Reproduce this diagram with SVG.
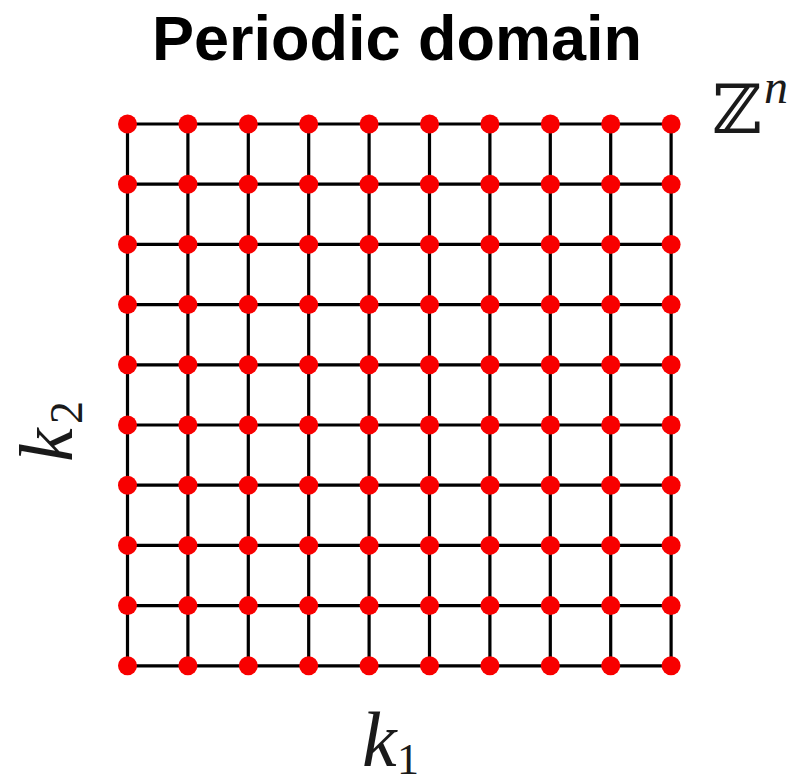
<svg xmlns="http://www.w3.org/2000/svg" width="801" height="784" viewBox="0 0 801 784">
<style>
.title{font-family:"Liberation Sans",Arial,sans-serif;font-weight:bold;font-size:63px;fill:#000}
.math{font-family:"Liberation Serif","DejaVu Serif",serif;font-style:italic;fill:#1a1a1a}
.num{font-family:"Liberation Serif","DejaVu Serif",serif;font-style:normal;fill:#1a1a1a}
.bb{font-family:"DejaVu Serif","DejaVu Sans",serif;fill:#1a1a1a}
.grid{stroke:#000;stroke-width:3.2;fill:none}
.dot{fill:#f80000}
</style>
<rect width="801" height="784" fill="#fff"/>
<text class="title" x="152" y="60">Periodic domain</text>
<g id="label-Zn">
<text class="bb" x="712" y="133" font-size="68">ℤ</text>
<text class="math" x="764" y="103" font-size="48">n</text>
</g>
<g id="label-k1">
<text class="math" x="362" y="766" font-size="78">k</text>
<text class="num" x="397" y="774" font-size="44">1</text>
</g>
<g id="label-k2" transform="translate(72,462) rotate(-90)">
<text class="math" x="0" y="0" font-size="76">k</text>
<text class="num" x="38" y="10" font-size="46">2</text>
</g>
<g id="connectors" class="grid">
<path d="M127.5 124H671.1M127.5 184.2H671.1M127.5 244.4H671.1M127.5 304.6H671.1M127.5 364.8H671.1M127.5 425H671.1M127.5 485.2H671.1M127.5 545.4H671.1M127.5 605.6H671.1M127.5 665.8H671.1"/>
<path d="M127.5 124V665.8M187.9 124V665.8M248.3 124V665.8M308.7 124V665.8M369.1 124V665.8M429.5 124V665.8M489.9 124V665.8M550.3 124V665.8M610.7 124V665.8M671.1 124V665.8"/>
</g>
<g id="nodes" class="dot">
<g id="n0-0"><circle cx="127.5" cy="124" r="9.5"/></g><g id="n0-1"><circle cx="187.9" cy="124" r="9.5"/></g><g id="n0-2"><circle cx="248.3" cy="124" r="9.5"/></g><g id="n0-3"><circle cx="308.7" cy="124" r="9.5"/></g><g id="n0-4"><circle cx="369.1" cy="124" r="9.5"/></g><g id="n0-5"><circle cx="429.5" cy="124" r="9.5"/></g><g id="n0-6"><circle cx="489.9" cy="124" r="9.5"/></g><g id="n0-7"><circle cx="550.3" cy="124" r="9.5"/></g><g id="n0-8"><circle cx="610.7" cy="124" r="9.5"/></g><g id="n0-9"><circle cx="671.1" cy="124" r="9.5"/></g>
<g id="n1-0"><circle cx="127.5" cy="184.2" r="9.5"/></g><g id="n1-1"><circle cx="187.9" cy="184.2" r="9.5"/></g><g id="n1-2"><circle cx="248.3" cy="184.2" r="9.5"/></g><g id="n1-3"><circle cx="308.7" cy="184.2" r="9.5"/></g><g id="n1-4"><circle cx="369.1" cy="184.2" r="9.5"/></g><g id="n1-5"><circle cx="429.5" cy="184.2" r="9.5"/></g><g id="n1-6"><circle cx="489.9" cy="184.2" r="9.5"/></g><g id="n1-7"><circle cx="550.3" cy="184.2" r="9.5"/></g><g id="n1-8"><circle cx="610.7" cy="184.2" r="9.5"/></g><g id="n1-9"><circle cx="671.1" cy="184.2" r="9.5"/></g>
<g id="n2-0"><circle cx="127.5" cy="244.4" r="9.5"/></g><g id="n2-1"><circle cx="187.9" cy="244.4" r="9.5"/></g><g id="n2-2"><circle cx="248.3" cy="244.4" r="9.5"/></g><g id="n2-3"><circle cx="308.7" cy="244.4" r="9.5"/></g><g id="n2-4"><circle cx="369.1" cy="244.4" r="9.5"/></g><g id="n2-5"><circle cx="429.5" cy="244.4" r="9.5"/></g><g id="n2-6"><circle cx="489.9" cy="244.4" r="9.5"/></g><g id="n2-7"><circle cx="550.3" cy="244.4" r="9.5"/></g><g id="n2-8"><circle cx="610.7" cy="244.4" r="9.5"/></g><g id="n2-9"><circle cx="671.1" cy="244.4" r="9.5"/></g>
<g id="n3-0"><circle cx="127.5" cy="304.6" r="9.5"/></g><g id="n3-1"><circle cx="187.9" cy="304.6" r="9.5"/></g><g id="n3-2"><circle cx="248.3" cy="304.6" r="9.5"/></g><g id="n3-3"><circle cx="308.7" cy="304.6" r="9.5"/></g><g id="n3-4"><circle cx="369.1" cy="304.6" r="9.5"/></g><g id="n3-5"><circle cx="429.5" cy="304.6" r="9.5"/></g><g id="n3-6"><circle cx="489.9" cy="304.6" r="9.5"/></g><g id="n3-7"><circle cx="550.3" cy="304.6" r="9.5"/></g><g id="n3-8"><circle cx="610.7" cy="304.6" r="9.5"/></g><g id="n3-9"><circle cx="671.1" cy="304.6" r="9.5"/></g>
<g id="n4-0"><circle cx="127.5" cy="364.8" r="9.5"/></g><g id="n4-1"><circle cx="187.9" cy="364.8" r="9.5"/></g><g id="n4-2"><circle cx="248.3" cy="364.8" r="9.5"/></g><g id="n4-3"><circle cx="308.7" cy="364.8" r="9.5"/></g><g id="n4-4"><circle cx="369.1" cy="364.8" r="9.5"/></g><g id="n4-5"><circle cx="429.5" cy="364.8" r="9.5"/></g><g id="n4-6"><circle cx="489.9" cy="364.8" r="9.5"/></g><g id="n4-7"><circle cx="550.3" cy="364.8" r="9.5"/></g><g id="n4-8"><circle cx="610.7" cy="364.8" r="9.5"/></g><g id="n4-9"><circle cx="671.1" cy="364.8" r="9.5"/></g>
<g id="n5-0"><circle cx="127.5" cy="425" r="9.5"/></g><g id="n5-1"><circle cx="187.9" cy="425" r="9.5"/></g><g id="n5-2"><circle cx="248.3" cy="425" r="9.5"/></g><g id="n5-3"><circle cx="308.7" cy="425" r="9.5"/></g><g id="n5-4"><circle cx="369.1" cy="425" r="9.5"/></g><g id="n5-5"><circle cx="429.5" cy="425" r="9.5"/></g><g id="n5-6"><circle cx="489.9" cy="425" r="9.5"/></g><g id="n5-7"><circle cx="550.3" cy="425" r="9.5"/></g><g id="n5-8"><circle cx="610.7" cy="425" r="9.5"/></g><g id="n5-9"><circle cx="671.1" cy="425" r="9.5"/></g>
<g id="n6-0"><circle cx="127.5" cy="485.2" r="9.5"/></g><g id="n6-1"><circle cx="187.9" cy="485.2" r="9.5"/></g><g id="n6-2"><circle cx="248.3" cy="485.2" r="9.5"/></g><g id="n6-3"><circle cx="308.7" cy="485.2" r="9.5"/></g><g id="n6-4"><circle cx="369.1" cy="485.2" r="9.5"/></g><g id="n6-5"><circle cx="429.5" cy="485.2" r="9.5"/></g><g id="n6-6"><circle cx="489.9" cy="485.2" r="9.5"/></g><g id="n6-7"><circle cx="550.3" cy="485.2" r="9.5"/></g><g id="n6-8"><circle cx="610.7" cy="485.2" r="9.5"/></g><g id="n6-9"><circle cx="671.1" cy="485.2" r="9.5"/></g>
<g id="n7-0"><circle cx="127.5" cy="545.4" r="9.5"/></g><g id="n7-1"><circle cx="187.9" cy="545.4" r="9.5"/></g><g id="n7-2"><circle cx="248.3" cy="545.4" r="9.5"/></g><g id="n7-3"><circle cx="308.7" cy="545.4" r="9.5"/></g><g id="n7-4"><circle cx="369.1" cy="545.4" r="9.5"/></g><g id="n7-5"><circle cx="429.5" cy="545.4" r="9.5"/></g><g id="n7-6"><circle cx="489.9" cy="545.4" r="9.5"/></g><g id="n7-7"><circle cx="550.3" cy="545.4" r="9.5"/></g><g id="n7-8"><circle cx="610.7" cy="545.4" r="9.5"/></g><g id="n7-9"><circle cx="671.1" cy="545.4" r="9.5"/></g>
<g id="n8-0"><circle cx="127.5" cy="605.6" r="9.5"/></g><g id="n8-1"><circle cx="187.9" cy="605.6" r="9.5"/></g><g id="n8-2"><circle cx="248.3" cy="605.6" r="9.5"/></g><g id="n8-3"><circle cx="308.7" cy="605.6" r="9.5"/></g><g id="n8-4"><circle cx="369.1" cy="605.6" r="9.5"/></g><g id="n8-5"><circle cx="429.5" cy="605.6" r="9.5"/></g><g id="n8-6"><circle cx="489.9" cy="605.6" r="9.5"/></g><g id="n8-7"><circle cx="550.3" cy="605.6" r="9.5"/></g><g id="n8-8"><circle cx="610.7" cy="605.6" r="9.5"/></g><g id="n8-9"><circle cx="671.1" cy="605.6" r="9.5"/></g>
<g id="n9-0"><circle cx="127.5" cy="665.8" r="9.5"/></g><g id="n9-1"><circle cx="187.9" cy="665.8" r="9.5"/></g><g id="n9-2"><circle cx="248.3" cy="665.8" r="9.5"/></g><g id="n9-3"><circle cx="308.7" cy="665.8" r="9.5"/></g><g id="n9-4"><circle cx="369.1" cy="665.8" r="9.5"/></g><g id="n9-5"><circle cx="429.5" cy="665.8" r="9.5"/></g><g id="n9-6"><circle cx="489.9" cy="665.8" r="9.5"/></g><g id="n9-7"><circle cx="550.3" cy="665.8" r="9.5"/></g><g id="n9-8"><circle cx="610.7" cy="665.8" r="9.5"/></g><g id="n9-9"><circle cx="671.1" cy="665.8" r="9.5"/></g>
</g>
</svg>
